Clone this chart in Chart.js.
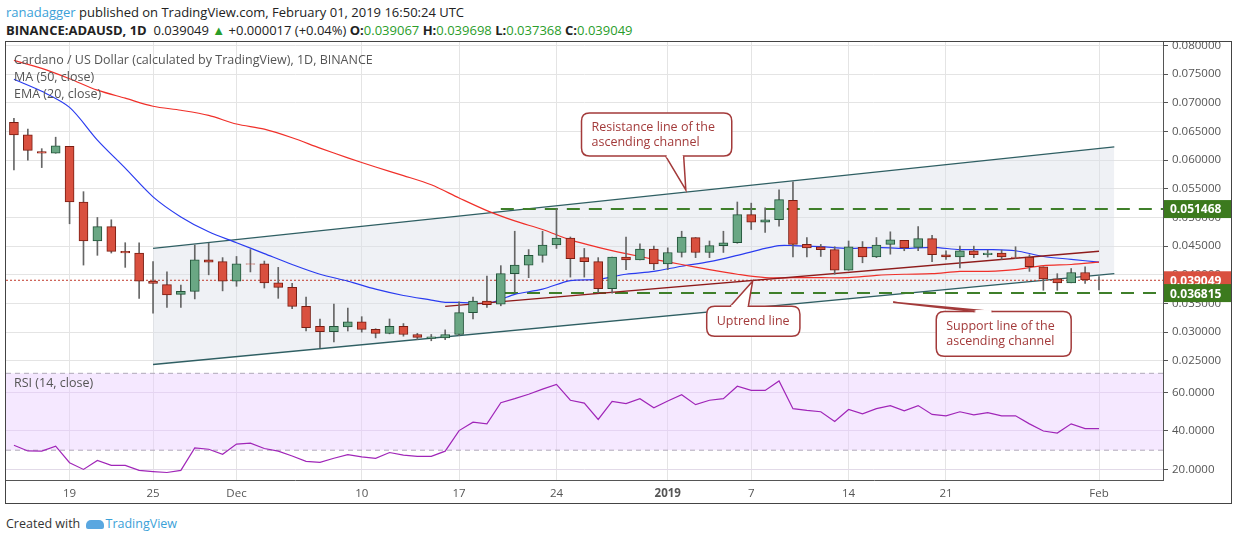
<!DOCTYPE html>
<html>
<head>
<meta charset="utf-8">
<script src="https://cdn.jsdelivr.net/npm/chart.js@4.4.1/dist/chart.umd.min.js"></script>
<style>
  body { margin: 0; background: #fff; font-family: "Open Sans", Arial, sans-serif; width: 1234px; height: 541px; overflow: hidden; position: relative; }
  .hdr { position: absolute; left: 6px; font-size: 13px; color: #222; white-space: nowrap; }
  .g { color: #2a9d2a; }
  .lbl { position: absolute; left: 14px; font-size: 12.5px; color: #555; white-space: nowrap; }
  #frame { position: absolute; left: 5px; top: 41px; width: 1227px; height: 463px; border: 1px solid #444; box-sizing: border-box; pointer-events: none; }
  #main { position: absolute; left: 6px; top: 42px; }
  #rsi { position: absolute; left: 6px; top: 366px; }
</style>
</head>
<body>
<div class="hdr" style="top:3px"><span style="color:#3ba1d8">ranadagger</span> published on TradingView.com, February 01, 2019 16:50:24 UTC</div>
<div class="hdr" style="top:21px"><b>BINANCE:ADAUSD, 1D</b>&nbsp; 0.039049 <span class="g">&#9650;</span> +0.000017 (+0.04%) <b>O:</b><span class="g">0.039067</span> <b>H:</b><span class="g">0.039698</span> <b>L:</b><span class="g">0.037368</span> <b>C:</b><span class="g">0.039049</span></div>
<canvas id="main" width="1226" height="324"></canvas>
<canvas id="rsi" width="1226" height="138"></canvas>
<div id="frame"></div>
<div class="lbl" style="top:51px">Cardano / US Dollar (calculated by TradingView), 1D, BINANCE</div>
<div class="lbl" style="top:68px">MA (50, close)</div>
<div class="lbl" style="top:85px">EMA (20, close)</div>
<div class="lbl" style="top:374px">RSI (14, close)</div>
<div style="position:absolute;left:6px;top:515px;font-size:12.5px;color:#333;">Created with <span style="display:inline-block;width:18px;height:9px;background:#5aa7e0;border-radius:5px 5px 2px 2px;vertical-align:middle;margin:0 2px;"></span><span style="color:#3ba1d8">TradingView</span></div>
<script>
// Daily candles from Nov 15 2018 to Feb 1 2019: [open, high, low, close]
const candles = [
  [0.0666, 0.0673, 0.0583, 0.0644], [0.0644, 0.0654, 0.0600, 0.0617], [0.0615, 0.0620, 0.0587, 0.0612],
  [0.0612, 0.0640, 0.0612, 0.0625], [0.0624, 0.0624, 0.0489, 0.0527], [0.0527, 0.0545, 0.0417, 0.0459],
  [0.0459, 0.0500, 0.0434, 0.0484], [0.0484, 0.0496, 0.0438, 0.0441], [0.0441, 0.0456, 0.0413, 0.0438],
  [0.0438, 0.0456, 0.0359, 0.0389], [0.0389, 0.0423, 0.0333, 0.0385], [0.0383, 0.0405, 0.0343, 0.0365],
  [0.0366, 0.0382, 0.0343, 0.0371], [0.0371, 0.0452, 0.0358, 0.0426], [0.0426, 0.0455, 0.0400, 0.0422],
  [0.0423, 0.0430, 0.0372, 0.0389], [0.0389, 0.0432, 0.0380, 0.0419], [0.0419, 0.0444, 0.0405, 0.04185],
  [0.0419, 0.0424, 0.0377, 0.0386], [0.0386, 0.0413, 0.0359, 0.0378], [0.0378, 0.0385, 0.0341, 0.0345],
  [0.0345, 0.0361, 0.0302, 0.0308], [0.0310, 0.0323, 0.0273, 0.0301], [0.0301, 0.0349, 0.0283, 0.0310],
  [0.0309, 0.0342, 0.0302, 0.0318], [0.0318, 0.0327, 0.0300, 0.0305], [0.0305, 0.0306, 0.0290, 0.0298],
  [0.0298, 0.0323, 0.0297, 0.0310], [0.0310, 0.0315, 0.0293, 0.0296], [0.0296, 0.0298, 0.0287, 0.0291],
  [0.0289, 0.0296, 0.0285, 0.0292], [0.0290, 0.0304, 0.0287, 0.0296], [0.0296, 0.0353, 0.0294, 0.0334],
  [0.0334, 0.0361, 0.0323, 0.0354], [0.0354, 0.0398, 0.0343, 0.0348], [0.0349, 0.0416, 0.0346, 0.0402],
  [0.0402, 0.0476, 0.0370, 0.0417], [0.0417, 0.0444, 0.0395, 0.0434], [0.0434, 0.0476, 0.0422, 0.0452],
  [0.0452, 0.0515, 0.0446, 0.0464], [0.0464, 0.0466, 0.0396, 0.0428], [0.0430, 0.0446, 0.0396, 0.0423],
  [0.0423, 0.0430, 0.0369, 0.0376], [0.0376, 0.0431, 0.0368, 0.0431], [0.0431, 0.0466, 0.0409, 0.0426],
  [0.0426, 0.0454, 0.0426, 0.0445], [0.0445, 0.0450, 0.0409, 0.0419], [0.0419, 0.0447, 0.0409, 0.0439],
  [0.0439, 0.0476, 0.0431, 0.0466], [0.0465, 0.0465, 0.0430, 0.0439], [0.0439, 0.0459, 0.0430, 0.0451],
  [0.0451, 0.0476, 0.0439, 0.0456], [0.0456, 0.0527, 0.0455, 0.0505], [0.0505, 0.0525, 0.0479, 0.0492],
  [0.0492, 0.0517, 0.0474, 0.0496], [0.0496, 0.0548, 0.0485, 0.0531], [0.0530, 0.0562, 0.0431, 0.0453],
  [0.0453, 0.0465, 0.0431, 0.0447], [0.0449, 0.0453, 0.0432, 0.0444], [0.0444, 0.0449, 0.0401, 0.0408],
  [0.0408, 0.0459, 0.0408, 0.0449], [0.0448, 0.0458, 0.0421, 0.0431], [0.0431, 0.0465, 0.0430, 0.0452],
  [0.0453, 0.0475, 0.0436, 0.0461], [0.0460, 0.0460, 0.0442, 0.0447], [0.0448, 0.0484, 0.0442, 0.0463],
  [0.0463, 0.0469, 0.0423, 0.0435], [0.0435, 0.0442, 0.0427, 0.0431], [0.0431, 0.0450, 0.0412, 0.0442],
  [0.0442, 0.0450, 0.0430, 0.0435], [0.0435, 0.0443, 0.0431, 0.0438], [0.0438, 0.0443, 0.0427, 0.0431],
  [0.0431, 0.0449, 0.0428, 0.04305], [0.0431, 0.0435, 0.0406, 0.0414], [0.0414, 0.0414, 0.0373, 0.0393],
  [0.0393, 0.0402, 0.0373, 0.0386], [0.0386, 0.0411, 0.0386, 0.0404], [0.0404, 0.0414, 0.0385, 0.0391],
  [0.039067, 0.039698, 0.037368, 0.039049]
];

// EMA 20 and MA 50 read every other day: [dayIndex, value]
const ema20 = [[0,0.0741],[2,0.0720],[4,0.0692],[6,0.0635],[8,0.0586],[10,0.0536],[12,0.0501],[14,0.0475],
  [16,0.0456],[18,0.0437],[20,0.0418],[22,0.0401],[24,0.0389],[26,0.0375],[28,0.0364],[30,0.0356],[31,0.0352],
  [32,0.0352],[34,0.0350],[35,0.0357],[36,0.0366],[38,0.0375],[40,0.0390],[42,0.0392],[44,0.0401],[46,0.0406],
  [48,0.0415],[50,0.0423],[52,0.0434],[54,0.0446],[55,0.0451],[56,0.0451],[58,0.0449],[60,0.0446],[62,0.0448],
  [64,0.0446],[66,0.0448],[68,0.0444],[70,0.0444],[72,0.0442],[74,0.0432],[76,0.0427],[78,0.0422]];
const ma50 = [[0,0.0774],[2,0.0760],[4,0.0742],[6,0.0722],[8,0.0708],[10,0.0694],[12,0.0687],[14,0.0678],
  [16,0.0663],[18,0.0654],[20,0.0639],[22,0.0621],[24,0.0604],[26,0.0588],[28,0.0573],[30,0.0557],[32,0.0534],
  [34,0.0512],[36,0.0494],[38,0.0479],[40,0.0461],[42,0.0448],[44,0.0437],[46,0.0427],[48,0.0418],[50,0.0409],
  [52,0.0401],[54,0.0395],[56,0.0395],[58,0.0395],[60,0.0395],[62,0.0399],[64,0.0401],[66,0.0402],[68,0.0406],
  [70,0.0406],[72,0.0409],[74,0.0416],[76,0.0418],[78,0.0422]];

const rsiValues = [32.6,29.6,29.5,32.1,23.5,20.0,24.7,22.1,22.1,19.5,18.9,18.4,19.5,31.2,30.5,27.9,33.2,33.7,
  30.9,29.5,27.0,24.2,23.7,25.8,27.7,26.5,25.8,28.8,27.4,26.8,26.8,29.5,40.2,44.6,43.7,54.7,56.8,59.1,61.8,64.2,
  56.0,54.5,46.0,55.4,54.2,56.8,52.1,55.6,58.9,53.7,56.0,56.8,63.3,61.1,61.1,66.0,51.6,50.7,50.0,44.9,51.2,48.9,
  51.6,53.2,50.5,53.2,48.6,47.9,50.0,48.4,49.5,47.9,47.9,43.7,40.0,38.9,43.7,41.2,41.2];

const resistance = 0.051468, support = 0.036815, lastClose = 0.039049;
const channelTop = [[10, 0.0446], [79.1, 0.0623]];
const channelBottom = [[10, 0.02436], [79.1, 0.0402]];
const uptrend = [[31, 0.0345], [78, 0.0441]];

const xTicks = [[4,'19'],[10,'25'],[16,'Dec'],[25,'10'],[32,'17'],[39,'24'],[47,'2019'],[53,'7'],[60,'14'],[67,'21'],[78,'Feb']];
const X_MIN = -0.57, X_MAX = 82.6;
const RED = '#d9503f', GREEN = '#6aa784';
const grid = '#e4e4e4';

const pts = arr => arr.map(p => ({ x: p[0], y: p[1] }));

function xScale(showLabels) {
  return {
    type: 'linear', min: X_MIN, max: X_MAX, offset: false,
    afterBuildTicks: s => { s.ticks = xTicks.map(t => ({ value: t[0] })); },
    afterFit: s => { s.height = showLabels ? 24 : 0; },
    grid: { color: grid, drawTicks: false, offset: false },
    border: { display: false },
    ticks: {
      display: showLabels, maxRotation: 0, autoSkip: false, color: '#555', padding: 7,
      font: c => ({ family: 'Open Sans', size: 11.5, weight: c.tick && c.tick.value === 47 ? 'bold' : 'normal' }),
      callback: v => { const t = xTicks.find(t => t[0] === v); return t ? t[1] : ''; }
    }
  };
}

// y tick labels drawn by hand so that Chart.js does not pad the plot area for them
function yLabels(format) {
  return {
    id: 'ylabels',
    afterDraw(chart) {
      const { ctx, chartArea: a, scales: { y } } = chart;
      ctx.save();
      ctx.fillStyle = '#555';
      ctx.font = '11.5px "Open Sans", Arial';
      ctx.textAlign = 'left'; ctx.textBaseline = 'middle';
      y.ticks.forEach(t => {
        const py = y.getPixelForValue(t.value);
        if (py < a.top + 2) return;
        ctx.fillText(format(t.value), a.right + 9, py);
      });
      ctx.restore();
    }
  };
}

// Callout boxes: [left, right, top, bottom, tipX, tipY, lines, anchor side]
const callouts = [
  [40.8, 51.6, 0.0682, 0.0607, 48.3, 0.0548, ['Resistance line of the', 'ascending channel'], 'bottom'],
  [49.8, 56.5, 0.0345, 0.0293, 53.1, 0.0389, ['Uptrend line'], 'top'],
  [66.3, 76.0, 0.0336, 0.0258, 63.2, 0.0352, ['Support line of the', 'ascending channel'], 'top']
];

const decorPlugin = {
  id: 'decor',
  afterDatasetsDraw(chart) {
    const { ctx, scales: { x, y } } = chart;
    ctx.save();
    callouts.forEach(c => {
      const l = x.getPixelForValue(c[0]), r = x.getPixelForValue(c[1]);
      const t = y.getPixelForValue(c[2]), b = y.getPixelForValue(c[3]);
      const tx = x.getPixelForValue(c[4]), ty = y.getPixelForValue(c[5]);
      const edge = c[7] === 'bottom' ? b : t;
      const bx = l + (r - l) * (c[7] === 'bottom' ? 0.62 : 0.35);
      const rr = 8;
      ctx.beginPath();
      ctx.moveTo(l + rr, t); ctx.lineTo(r - rr, t); ctx.quadraticCurveTo(r, t, r, t + rr);
      ctx.lineTo(r, b - rr); ctx.quadraticCurveTo(r, b, r - rr, b); ctx.lineTo(l + rr, b);
      ctx.quadraticCurveTo(l, b, l, b - rr); ctx.lineTo(l, t + rr); ctx.quadraticCurveTo(l, t, l + rr, t);
      ctx.closePath();
      ctx.fillStyle = '#fff'; ctx.fill();
      ctx.strokeStyle = '#a33a3a'; ctx.lineWidth = 1.5; ctx.stroke();
      ctx.beginPath();
      ctx.moveTo(bx - 9, edge); ctx.lineTo(tx, ty); ctx.lineTo(bx + 9, edge);
      ctx.fillStyle = '#fff'; ctx.fill(); ctx.stroke();
      ctx.fillStyle = '#fff'; ctx.fillRect(bx - 8, edge - 1.5, 16, 3);
      ctx.fillStyle = '#a33a3a';
      ctx.font = '12.5px "Open Sans", Arial';
      ctx.textAlign = 'left'; ctx.textBaseline = 'middle';
      const mid = (t + b) / 2, lh = 15;
      c[6].forEach((s, i) => ctx.fillText(s, l + 10, mid + (i - (c[6].length - 1) / 2) * lh));
    });
    ctx.restore();
  },
  afterDraw(chart) {
    const { ctx, scales: { y } } = chart;
    ctx.save();
    [[resistance, '#3c7a1e'], [lastClose, RED], [support, '#3c7a1e']].forEach(p => {
      const py = y.getPixelForValue(p[0]);
      ctx.fillStyle = p[1];
      ctx.fillRect(chart.chartArea.right + 1, py - 9, 70, 18);
      ctx.fillStyle = '#fff';
      ctx.font = 'bold 12px "Open Sans", Arial';
      ctx.textAlign = 'left'; ctx.textBaseline = 'middle';
      ctx.fillText(p[0].toFixed(6), chart.chartArea.right + 7, py + 1);
    });
    ctx.restore();
  }
};

const bodyColors = candles.map(c => c[3] >= c[0] ? GREEN : RED);
const bodyBorders = candles.map(c => c[3] >= c[0] ? '#22543a' : '#7a1d12');

new Chart(document.getElementById('main'), {
  data: {
    datasets: [
      { type: 'line', data: pts(channelTop), borderColor: '#2f5f63', borderWidth: 1.3, pointRadius: 0, order: 9 },
      { type: 'line', data: pts(channelBottom), borderColor: '#2f5f63', borderWidth: 1.3, pointRadius: 0,
        fill: '-1', backgroundColor: 'rgba(220,225,232,0.45)', order: 9 },
      { type: 'line', data: [{ x: 35, y: resistance }, { x: X_MAX, y: resistance }], borderColor: '#3f7f2a',
        borderWidth: 2, borderDash: [13, 9], pointRadius: 0, order: 8 },
      { type: 'line', data: [{ x: 35.3, y: support }, { x: X_MAX, y: support }], borderColor: '#3f7f2a',
        borderWidth: 2, borderDash: [13, 9], pointRadius: 0, order: 8 },
      { type: 'line', data: [{ x: X_MIN, y: lastClose }, { x: X_MAX, y: lastClose }], borderColor: '#c0392b',
        borderWidth: 1, borderDash: [2, 2], pointRadius: 0, order: 8 },
      { type: 'line', data: pts(ma50), borderColor: '#f0302a', borderWidth: 1.2, pointRadius: 0, tension: 0.3, order: 7 },
      { type: 'line', data: pts(ema20), borderColor: '#2a3cf0', borderWidth: 1.2, pointRadius: 0, tension: 0.3, order: 7 },
      { type: 'line', data: pts(uptrend), borderColor: '#8e1b1b', borderWidth: 1.4, pointRadius: 0, order: 6 },
      { type: 'bar', data: candles.map((c, i) => ({ x: i, y: [c[2], c[1]] })), backgroundColor: '#666',
        barThickness: 1, grouped: false, order: 2 },
      { type: 'bar', data: candles.map((c, i) => ({ x: i, y: [c[0], c[3]] })), backgroundColor: bodyColors,
        borderColor: bodyBorders, borderWidth: 1, borderSkipped: false, barThickness: 9, grouped: false, order: 1 }
    ]
  },
  options: {
    responsive: false, animation: false,
    layout: { padding: 0 },
    plugins: { legend: { display: false }, tooltip: { enabled: false } },
    scales: {
      x: xScale(false),
      y: {
        position: 'right', min: 0.0241, max: 0.0806,
        afterFit: s => { s.width = 69; },
        afterBuildTicks: s => { s.ticks = []; for (let v = 0.025; v <= 0.0801; v += 0.005) s.ticks.push({ value: +v.toFixed(3) }); },
        grid: { color: grid, tickLength: 5, tickColor: '#555' },
        border: { color: '#555' },
        ticks: { display: false }
      }
    }
  },
  // axis labels first, the coloured price tags on top of them
  plugins: [yLabels(v => v.toFixed(6)), decorPlugin]
});

const bandPlugin = {
  id: 'band',
  beforeDatasetsDraw(chart) {
    const { ctx, chartArea: a, scales: { y } } = chart;
    const y70 = y.getPixelForValue(70), y30 = y.getPixelForValue(30);
    ctx.save();
    ctx.fillStyle = 'rgba(233,205,255,0.45)';
    ctx.fillRect(a.left, y70, a.right - a.left, y30 - y70);
    ctx.strokeStyle = '#b0a8b8'; ctx.setLineDash([5, 4]); ctx.lineWidth = 1;
    [y70, y30].forEach(py => { ctx.beginPath(); ctx.moveTo(a.left, py); ctx.lineTo(a.right, py); ctx.stroke(); });
    ctx.restore();
  }
};

new Chart(document.getElementById('rsi'), {
  type: 'line',
  data: {
    datasets: [{ data: rsiValues.map((v, i) => ({ x: i, y: v })), borderColor: '#a026b8', borderWidth: 1.2, pointRadius: 0 }]
  },
  options: {
    responsive: false, animation: false,
    layout: { padding: 0 },
    plugins: { legend: { display: false }, tooltip: { enabled: false } },
    scales: {
      x: Object.assign(xScale(true), { border: { display: true, color: '#555' } }),
      y: {
        position: 'right', min: 14.5, max: 73.8,
        afterFit: s => { s.width = 69; },
        afterBuildTicks: s => { s.ticks = [20, 40, 60].map(v => ({ value: v })); },
        grid: { color: '#e2dae8', tickLength: 5, tickColor: '#555' },
        border: { color: '#555' },
        ticks: { display: false }
      }
    }
  },
  plugins: [bandPlugin, yLabels(v => v.toFixed(4))]
});
</script>
</body>
</html>
